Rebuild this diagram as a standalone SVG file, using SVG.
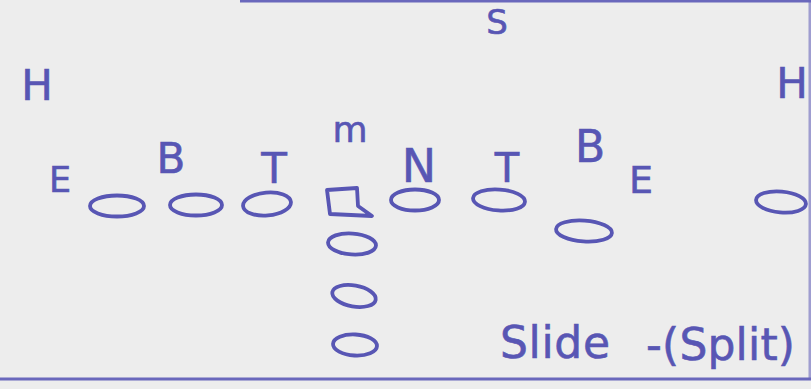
<svg xmlns="http://www.w3.org/2000/svg" width="811" height="389" viewBox="0 0 811 389">
<style>
.ink{fill:none;stroke:#5856b4;stroke-width:3.8;stroke-linejoin:round;stroke-linecap:round}
.lbl{fill:#5856b4;stroke:#5856b4;stroke-width:0.6;font-family:"DejaVu Sans","Liberation Sans",sans-serif;text-anchor:middle}
.note{fill:#5856b4;stroke:#5856b4;stroke-width:0.6;font-family:"DejaVu Sans","Liberation Sans",sans-serif}
.edge{stroke:#6a68bc;stroke-width:3;fill:none}
</style>
<rect width="811" height="389" fill="#ededed"/>
<g id="border">
<line class="edge" x1="240" y1="1" x2="811" y2="1"/>
<line class="edge" x1="0" y1="379" x2="811" y2="379"/>
<line class="edge" x1="810" y1="0" x2="810" y2="380" stroke-width="1.2" opacity="0.6"/>
</g>
<g id="defense">
<g id="H-left"><text class="lbl" x="37" y="100" font-size="42">H</text></g>
<g id="E-left"><text class="lbl" x="60" y="192" font-size="35">E</text></g>
<g id="B-left"><text class="lbl" x="171" y="173" font-size="42">B</text></g>
<g id="T-left"><text class="lbl" x="274" y="183" font-size="42">T</text></g>
<g id="M"><text class="lbl" x="350" y="142" font-size="36">m</text></g>
<g id="N"><text class="lbl" x="419" y="182" font-size="46">N</text></g>
<g id="S"><text class="lbl" x="497" y="34" font-size="34">S</text></g>
<g id="T-right"><text class="lbl" x="507" y="182" font-size="40">T</text></g>
<g id="B-right"><text class="lbl" x="590" y="162" font-size="44">B</text></g>
<g id="E-right"><text class="lbl" x="641" y="193" font-size="38">E</text></g>
<g id="H-right"><text class="lbl" x="792" y="98" font-size="42">H</text></g>
</g>
<g id="offense">
<g id="o1"><ellipse class="ink" cx="117" cy="206" rx="27" ry="10.5"/></g>
<g id="o2"><ellipse class="ink" cx="196" cy="205" rx="26" ry="10.5"/></g>
<g id="o3"><ellipse class="ink" cx="267" cy="204" rx="24" ry="11.5" transform="rotate(-5 267 204)"/></g>
<g id="center"><path class="ink" d="M327,190 L357,188 L358,206 L372,216 L330,214 Z"/></g>
<g id="o5"><ellipse class="ink" cx="415" cy="200" rx="24" ry="10.5"/></g>
<g id="o6"><ellipse class="ink" cx="499" cy="200" rx="26" ry="10.5" transform="rotate(4 499 200)"/></g>
<g id="o7"><ellipse class="ink" cx="584" cy="231" rx="28" ry="10.5" transform="rotate(4 584 231)"/></g>
<g id="o8"><ellipse class="ink" cx="781" cy="202" rx="25" ry="10.5" transform="rotate(5 781 202)"/></g>
<g id="qb"><ellipse class="ink" cx="352" cy="244" rx="24" ry="10.5" transform="rotate(4 352 244)"/></g>
<g id="rb1"><ellipse class="ink" cx="354" cy="296" rx="22" ry="10.5" transform="rotate(10 354 296)"/></g>
<g id="rb2"><ellipse class="ink" cx="355" cy="345" rx="22" ry="10.5" transform="rotate(3 355 345)"/></g>
</g>
<g id="title">
<text class="note" font-size="44"><tspan x="500" y="358" textLength="110">Slide</tspan><tspan x="646" y="360" textLength="149">-(Split)</tspan></text>
</g>
</svg>
